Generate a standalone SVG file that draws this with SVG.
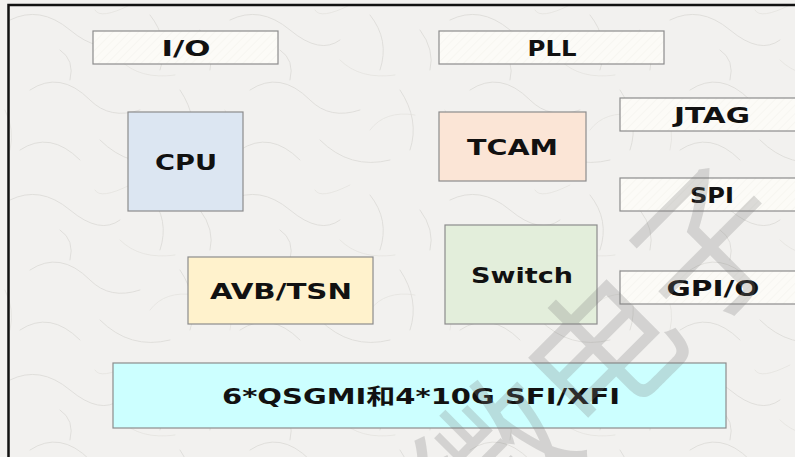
<svg xmlns="http://www.w3.org/2000/svg" width="795" height="457" viewBox="0 0 795 457">
  <defs>
    <pattern id="paper" width="220" height="180" patternUnits="userSpaceOnUse">
      <rect width="220" height="180" fill="#f2f1ef"/>
      <g fill="none" stroke="#dbd9d5" stroke-width="0.8" stroke-linecap="round">
        <path d="M10 20 Q40 5 70 30 T120 40"/>
        <path d="M150 15 Q170 40 160 70"/>
        <path d="M30 90 Q60 70 90 100 Q110 120 140 110"/>
        <path d="M180 90 Q200 120 190 150"/>
        <path d="M20 150 Q50 130 80 160"/>
        <path d="M100 140 Q130 170 170 160"/>
        <path d="M60 50 Q75 60 70 80"/>
        <path d="M200 30 Q215 50 210 70"/>
      </g>
      <g fill="none" stroke="#e3e1dd" stroke-width="0.7" stroke-linecap="round">
        <path d="M120 60 Q140 80 175 75"/>
        <path d="M5 110 Q15 130 10 150"/>
        <path d="M130 5 Q100 20 95 10"/>
        <path d="M150 130 Q165 110 195 115"/>
      </g>
    </pattern>
    <pattern id="hatch" width="6" height="6" patternUnits="userSpaceOnUse" patternTransform="rotate(45)">
      <rect width="6" height="6" fill="#fcfbf7"/>
      <line x1="0" y1="0" x2="0" y2="6" stroke="#f4f3ed" stroke-width="1.2"/>
    </pattern>
  </defs>
  <style>
    .box { stroke: #8c8c8c; stroke-width: 1.2; }
    .light { fill: url(#hatch); }
    .lbl { font-family: "DejaVu Sans", "Noto Sans CJK SC", sans-serif; font-weight: bold; font-size: 22px; fill: #111111; text-anchor: middle; }
    .wm { font-family: "Noto Sans CJK SC", sans-serif; font-size: 150px; fill: #7a7a7a; fill-opacity: 0.26; text-anchor: middle; }
  </style>

  <rect x="0" y="0" width="795" height="457" fill="url(#paper)"/>
  <rect x="8.5" y="5" width="800" height="470" fill="none" stroke="#111111" stroke-width="2.5"/>

  <g id="connectors"></g>

  <g id="io">
    <rect class="box light" x="93" y="31" width="185" height="33"/>
    <text class="lbl" x="186" y="56" textLength="49" lengthAdjust="spacingAndGlyphs">I/O</text>
  </g>
  <g id="pll">
    <rect class="box light" x="439" y="31" width="225" height="33"/>
    <text class="lbl" x="552" y="56" textLength="49" lengthAdjust="spacingAndGlyphs">PLL</text>
  </g>
  <g id="cpu">
    <rect class="box" x="128" y="112" width="115" height="99" fill="#dce6f2"/>
    <text class="lbl" x="186" y="170" textLength="62" lengthAdjust="spacingAndGlyphs">CPU</text>
  </g>
  <g id="tcam">
    <rect class="box" x="439" y="112" width="147" height="69" fill="#fbe5d6"/>
    <text class="lbl" x="512.5" y="155" textLength="91" lengthAdjust="spacingAndGlyphs">TCAM</text>
  </g>
  <g id="jtag">
    <rect class="box light" x="620" y="98" width="185" height="33"/>
    <text class="lbl" x="712" y="123" textLength="76" lengthAdjust="spacingAndGlyphs">JTAG</text>
  </g>
  <g id="spi">
    <rect class="box light" x="620" y="178" width="185" height="33"/>
    <text class="lbl" x="712" y="203" textLength="44" lengthAdjust="spacingAndGlyphs">SPI</text>
  </g>
  <g id="switch">
    <rect class="box" x="445" y="225" width="152" height="99" fill="#e3eedb"/>
    <text class="lbl" x="522" y="283" textLength="102" lengthAdjust="spacingAndGlyphs">Switch</text>
  </g>
  <g id="gpio">
    <rect class="box light" x="620" y="271" width="185" height="33"/>
    <text class="lbl" x="713" y="296" textLength="93" lengthAdjust="spacingAndGlyphs">GPI/O</text>
  </g>
  <g id="avbtsn">
    <rect class="box" x="188" y="257" width="185" height="67" fill="#fff2cc"/>
    <text class="lbl" x="281" y="299" textLength="142" lengthAdjust="spacingAndGlyphs">AVB/TSN</text>
  </g>
  <g id="ports">
    <rect class="box" x="113" y="363" width="613" height="65" fill="#ccffff"/>
    <text class="lbl" x="421" y="404" textLength="398" lengthAdjust="spacingAndGlyphs">6*QSGMI和4*10G SFI/XFI</text>
  </g>

  <g id="watermark" transform="translate(602,352) rotate(-45)">
    <text class="wm" x="0" y="56">微电子</text>
  </g>
</svg>
